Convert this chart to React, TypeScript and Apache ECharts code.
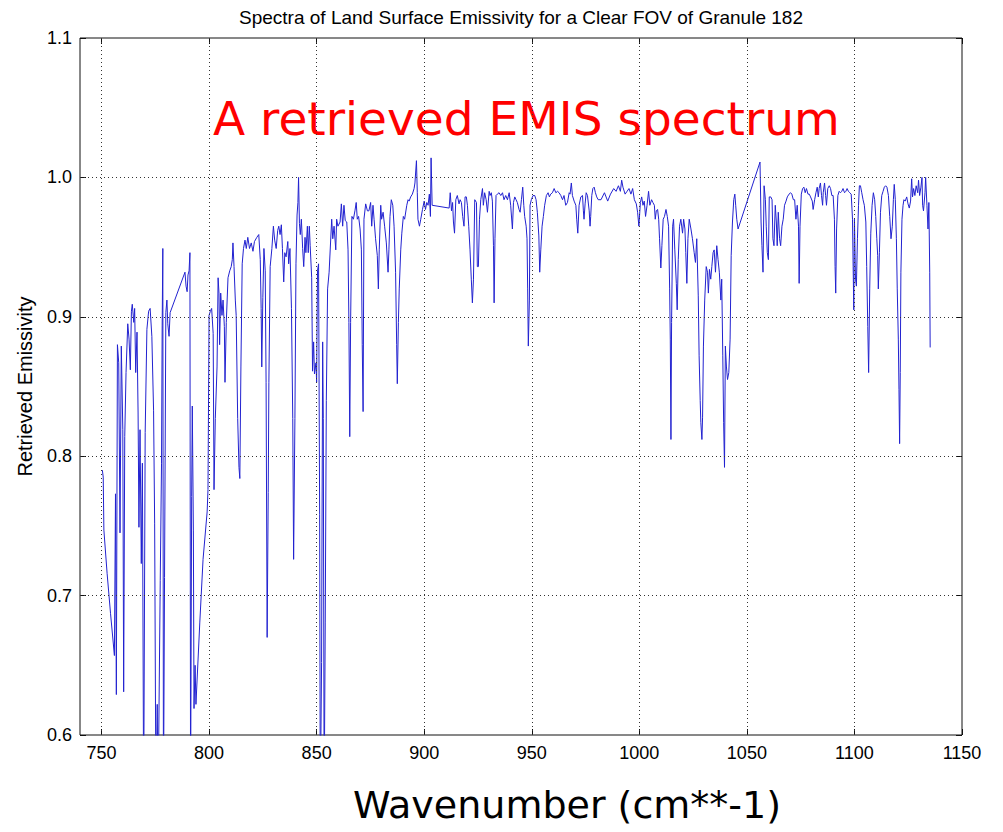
import React, { useEffect, useRef } from "react";
import * as echarts from "echarts";

// ---- data: [wavenumber (cm-1), retrieved emissivity] ----
const band750: [number, number][] = [
  [750.4, 0.79], [750.8, 0.785], [751.1, 0.747], [752.6, 0.716], [754.2, 0.687], [756.0, 0.657],
  [756.5, 0.773], [756.9, 0.629], [757.4, 0.88], [758.0, 0.867], [758.6, 0.745], [759.2, 0.879],
  [759.9, 0.819], [760.3, 0.631], [760.8, 0.814], [761.4, 0.86], [762.2, 0.895], [762.8, 0.884],
  [763.4, 0.862], [763.9, 0.904], [764.3, 0.909], [765.0, 0.896], [765.4, 0.906], [765.9, 0.86],
  [766.5, 0.889], [767.0, 0.831], [767.4, 0.749], [767.9, 0.819], [768.5, 0.723], [769.0, 0.795],
  [769.6, 0.55], [770.3, 0.817], [771.1, 0.891], [771.9, 0.904], [772.6, 0.906], [773.4, 0.886],
  [774.2, 0.833], [774.7, 0.752], [775.3, 0.55], [775.9, 0.622], [776.3, 0.55], [777.3, 0.711],
  [777.9, 0.795], [778.2, 0.894], [778.5, 0.949], [778.8, 0.55], [779.3, 0.713], [779.9, 0.903],
  [780.4, 0.912], [780.8, 0.895], [781.4, 0.886], [781.9, 0.903], [788.8, 0.932], [789.3, 0.922],
  [789.8, 0.918], [790.2, 0.93], [790.7, 0.933], [791.1, 0.946], [791.4, 0.55], [791.9, 0.771],
  [792.2, 0.836], [792.7, 0.747], [793.0, 0.619], [793.5, 0.65], [793.9, 0.622], [795.7, 0.681],
  [797.2, 0.726], [799.1, 0.76], [799.5, 0.776],
];

const band800: [number, number][] = [
  [800.0, 0.901], [800.6, 0.904], [801.2, 0.906], [801.9, 0.888], [802.3, 0.776], [802.9, 0.827],
  [803.7, 0.864], [804.2, 0.928], [804.6, 0.917], [804.9, 0.88], [805.4, 0.917], [806.0, 0.901],
  [806.5, 0.912], [807.1, 0.893], [807.4, 0.853], [808.0, 0.896], [808.8, 0.928], [809.6, 0.933],
  [810.3, 0.936], [810.8, 0.941], [811.1, 0.953], [811.6, 0.936], [812.2, 0.912], [812.6, 0.901],
  [813.3, 0.827], [813.9, 0.792], [814.3, 0.784], [814.8, 0.864], [815.4, 0.938], [816.0, 0.949],
  [816.7, 0.955], [817.3, 0.949], [818.0, 0.957], [818.8, 0.949], [819.6, 0.953], [820.4, 0.947],
  [821.1, 0.954], [822.2, 0.957], [823.1, 0.959], [823.8, 0.941], [824.2, 0.906], [824.5, 0.864],
  [825.0, 0.914], [825.5, 0.949], [826.1, 0.933], [826.5, 0.853], [827.0, 0.67], [827.5, 0.774],
  [827.8, 0.853], [828.4, 0.936], [829.2, 0.949], [829.9, 0.965], [830.5, 0.955], [831.2, 0.949],
  [831.9, 0.962], [832.4, 0.965], [833.0, 0.959], [833.6, 0.966], [834.1, 0.949], [834.7, 0.925],
  [835.2, 0.946], [835.8, 0.943], [836.6, 0.954], [837.0, 0.938], [837.6, 0.949], [838.3, 0.906],
  [838.9, 0.827], [839.3, 0.726], [839.9, 0.827], [840.4, 0.938], [840.9, 0.973], [841.3, 0.982],
  [841.6, 1.0], [842.0, 0.967], [842.4, 0.959], [842.9, 0.97], [843.5, 0.949], [844.0, 0.936],
  [844.6, 0.957], [845.0, 0.946], [845.7, 0.965], [846.1, 0.946], [846.6, 0.965], [847.0, 0.951],
  [847.7, 0.928], [848.1, 0.861], [848.6, 0.882], [849.0, 0.859], [849.7, 0.867], [850.0, 0.853],
  [850.4, 0.933], [850.9, 0.938], [851.4, 0.758], [851.7, 0.55], [852.3, 0.652], [852.8, 0.882],
  [853.1, 0.827], [853.5, 0.55], [854.0, 0.681], [854.5, 0.84], [855.1, 0.92],
];

const band855: [number, number][] = [
  [855.8, 0.932], [857.0, 0.97], [857.5, 0.956], [858.1, 0.965], [858.9, 0.948], [859.3, 0.97],
  [859.9, 0.965], [860.9, 0.968], [861.5, 0.981], [862.1, 0.965], [862.7, 0.98], [863.3, 0.969],
  [864.0, 0.968], [864.6, 0.948], [865.0, 0.896], [865.4, 0.814], [865.8, 0.896], [866.4, 0.972],
  [867.1, 0.97], [867.8, 0.976], [868.4, 0.982], [868.9, 0.97], [869.5, 0.972], [870.2, 0.963],
  [870.8, 0.948], [871.2, 0.88], [871.6, 0.832], [872.0, 0.97], [872.8, 0.981], [873.6, 0.976],
  [874.3, 0.976], [875.1, 0.982], [875.6, 0.965], [876.2, 0.98], [876.7, 0.97], [877.4, 0.956],
  [878.2, 0.944], [878.7, 0.92], [879.1, 0.948], [879.8, 0.98], [880.2, 0.97], [880.9, 0.975],
  [881.6, 0.965], [882.4, 0.953], [883.2, 0.932], [883.6, 0.948], [884.1, 0.972], [884.7, 0.984],
  [885.4, 0.98], [886.0, 0.965], [886.7, 0.932], [887.2, 0.88], [887.5, 0.852], [888.0, 0.896],
  [888.4, 0.92], [889.1, 0.948], [889.6, 0.96], [890.3, 0.972], [890.9, 0.97], [891.9, 0.98],
  [892.5, 0.984], [893.0, 0.983], [893.7, 0.986], [894.5, 0.988], [895.3, 0.992], [895.7, 0.996],
  [896.4, 1.012], [896.8, 0.989], [897.1, 0.97], [897.8, 0.965], [898.4, 0.97], [899.2, 0.977],
  [900.0, 0.983], [900.6, 0.977], [901.2, 0.982], [901.8, 0.98], [902.4, 0.988], [902.9, 0.972],
  [903.2, 1.014], [903.7, 0.98], [904.0, 0.98], [911.6, 0.978], [912.1, 0.989], [912.7, 0.976],
  [913.2, 0.982], [913.6, 0.968], [914.1, 0.96], [914.7, 0.984], [915.4, 0.987], [916.2, 0.981],
  [916.7, 0.984], [917.3, 0.982], [917.9, 0.972], [918.5, 0.965], [919.0, 0.986], [919.6, 0.986],
  [920.1, 0.98], [920.7, 0.965], [921.3, 0.948], [921.9, 0.927], [922.4, 0.91], [922.9, 0.927],
  [923.5, 0.984], [924.3, 0.982], [924.7, 0.936], [925.2, 0.936], [925.7, 0.97], [926.3, 0.984],
  [927.1, 0.992], [927.5, 0.98], [928.1, 0.989], [928.8, 0.984], [929.4, 0.975], [930.2, 0.99],
  [930.6, 0.987], [931.2, 0.989], [931.7, 0.983], [932.2, 0.951], [932.5, 0.91], [932.9, 0.956],
  [933.4, 0.987], [934.0, 0.988], [934.8, 0.989], [935.6, 0.987], [936.4, 0.989], [937.1, 0.984],
  [937.9, 0.987], [938.7, 0.984], [939.5, 0.989], [940.2, 0.98], [941.0, 0.963], [941.5, 0.982],
  [942.1, 0.986], [942.7, 0.984], [943.3, 0.982], [944.1, 0.977], [944.6, 0.975], [945.2, 0.984],
  [945.8, 0.993], [946.3, 0.98], [946.7, 0.972], [947.4, 0.965], [947.8, 0.956], [948.1, 0.92],
  [948.4, 0.879], [948.9, 0.912], [949.2, 0.98], [949.8, 0.984], [950.6, 0.987], [951.4, 0.987],
  [952.0, 0.984], [952.6, 0.975], [953.3, 0.958], [953.7, 0.932], [954.2, 0.948], [954.8, 0.965],
  [955.4, 0.972], [956.0, 0.98], [956.8, 0.987], [957.6, 0.989], [958.2, 0.986], [958.8, 0.988],
  [959.6, 0.989], [960.4, 0.992], [961.2, 0.989], [962.0, 0.99], [962.7, 0.989], [963.5, 0.987],
  [964.3, 0.984], [965.0, 0.987], [965.8, 0.98], [966.6, 0.982], [967.4, 0.989], [967.8, 0.988],
  [968.4, 0.996], [968.9, 0.987], [969.7, 0.983], [970.5, 0.98], [970.9, 0.97], [971.4, 0.96],
  [972.0, 0.98], [972.8, 0.986], [973.6, 0.987], [974.0, 0.976], [974.3, 0.97], [974.8, 0.981],
  [975.3, 0.989], [975.9, 0.987], [976.7, 0.976], [977.1, 0.965], [977.4, 0.972], [977.9, 0.987],
  [978.4, 0.992], [979.0, 0.993], [979.6, 0.989], [980.2, 0.986], [980.9, 0.984],
];

const band982: [number, number][] = [
  [982.2, 0.984], [983.8, 0.989], [985.3, 0.983], [986.6, 0.988], [988.1, 0.992], [989.2, 0.99],
  [990.3, 0.994], [991.2, 0.99], [991.8, 0.998], [992.4, 0.993], [993.4, 0.988], [994.3, 0.99],
  [995.2, 0.992], [996.1, 0.988], [996.9, 0.992], [997.7, 0.984], [998.6, 0.981], [999.2, 0.975],
  [999.8, 0.965], [1000.5, 0.982], [1001.1, 0.986], [1001.7, 0.98], [1002.3, 0.983], [1002.9, 0.972],
  [1003.6, 0.98], [1004.3, 0.99], [1004.9, 0.98], [1005.7, 0.984], [1006.3, 0.982], [1007.0, 0.98],
  [1007.4, 0.97], [1007.9, 0.976], [1008.5, 0.977], [1009.0, 0.97], [1009.4, 0.956], [1010.0, 0.935],
  [1010.5, 0.951], [1011.1, 0.97], [1011.7, 0.972], [1012.4, 0.977], [1013.0, 0.972], [1013.6, 0.965],
  [1014.1, 0.92], [1014.4, 0.884], [1014.7, 0.812], [1015.0, 0.896], [1015.5, 0.965], [1015.9, 0.97],
  [1016.5, 0.948], [1017.2, 0.924], [1017.6, 0.905], [1018.1, 0.941], [1018.7, 0.965], [1019.3, 0.97],
  [1020.1, 0.96], [1020.6, 0.97], [1021.2, 0.963], [1021.6, 0.946], [1022.1, 0.924], [1022.6, 0.956],
  [1023.2, 0.97], [1024.0, 0.963], [1024.7, 0.956], [1025.5, 0.946], [1026.1, 0.939], [1026.7, 0.956],
  [1027.4, 0.915], [1027.8, 0.872], [1028.3, 0.84], [1028.6, 0.824], [1029.1, 0.812], [1029.4, 0.828],
  [1029.8, 0.879], [1030.4, 0.912], [1031.1, 0.936], [1031.7, 0.932], [1032.1, 0.917], [1032.6, 0.934],
  [1033.2, 0.927], [1033.7, 0.936], [1034.3, 0.946], [1034.8, 0.948], [1035.4, 0.932], [1036.0, 0.951],
  [1036.6, 0.941], [1037.2, 0.932], [1037.9, 0.912], [1038.3, 0.927], [1038.8, 0.872], [1039.2, 0.824],
  [1039.6, 0.792], [1040.0, 0.879], [1040.5, 0.864], [1041.0, 0.855], [1041.6, 0.86], [1042.2, 0.884],
  [1042.7, 0.944], [1043.3, 0.968], [1043.9, 0.984], [1044.4, 0.988], [1044.8, 0.98], [1045.3, 0.97],
  [1045.9, 0.963], [1056.1, 1.011], [1056.6, 0.968], [1057.0, 0.951], [1057.5, 0.932], [1058.0, 0.994],
  [1058.6, 0.984], [1059.0, 0.965], [1059.5, 0.946], [1060.0, 0.941], [1060.4, 0.986], [1061.1, 0.986],
  [1061.7, 0.984], [1062.1, 0.956], [1062.6, 0.951], [1063.2, 0.98], [1063.7, 0.968], [1064.1, 0.951],
  [1064.6, 0.975], [1065.2, 0.956], [1065.7, 0.951], [1066.3, 0.965], [1066.9, 0.97], [1067.5, 0.98],
  [1068.2, 0.983], [1068.8, 0.986], [1069.6, 0.988], [1070.3, 0.989], [1070.9, 0.988], [1071.6, 0.984],
  [1072.2, 0.984], [1072.8, 0.97], [1073.4, 0.98], [1074.0, 0.965], [1074.3, 0.924], [1074.7, 0.965],
  [1075.3, 0.988], [1075.9, 0.992], [1076.5, 0.993], [1077.1, 0.989], [1077.7, 0.992], [1078.4, 0.988],
  [1079.0, 0.988], [1079.6, 0.986], [1080.4, 0.983], [1080.8, 0.977], [1081.5, 0.984], [1082.1, 0.989],
  [1082.7, 0.993], [1083.2, 0.986], [1083.6, 0.992], [1084.2, 0.996], [1084.7, 0.987], [1085.2, 0.98],
  [1085.5, 0.989], [1086.1, 0.996], [1086.6, 0.987], [1087.0, 0.98], [1087.6, 0.992], [1088.3, 0.994],
  [1088.9, 0.992], [1089.5, 0.987], [1090.1, 0.987], [1090.7, 0.97], [1091.0, 0.936], [1091.3, 0.917],
  [1091.7, 0.963], [1092.3, 0.987], [1092.9, 0.99], [1093.5, 0.989], [1094.1, 0.99], [1094.7, 0.992],
  [1095.4, 0.989], [1096.0, 0.99], [1096.6, 0.992], [1097.2, 0.99], [1097.8, 0.989], [1098.5, 0.988],
  [1099.1, 0.97], [1099.4, 0.936], [1099.7, 0.905], [1100.0, 0.97], [1100.5, 0.927], [1100.9, 0.922],
  [1101.4, 0.956], [1101.9, 0.98], [1102.3, 0.994], [1102.8, 0.994], [1103.4, 0.989], [1104.0, 0.984],
  [1104.6, 0.98], [1105.3, 0.968], [1105.7, 0.936], [1106.2, 0.893], [1106.6, 0.86], [1107.1, 0.92],
  [1107.6, 0.96], [1108.2, 0.98], [1108.8, 0.989], [1109.4, 0.984], [1109.9, 0.972], [1110.4, 0.956],
  [1110.8, 0.944], [1111.1, 0.92], [1111.6, 0.946], [1112.1, 0.975], [1112.7, 0.987], [1113.3, 0.99],
  [1113.9, 0.993], [1114.5, 0.994], [1115.1, 0.993], [1115.8, 0.987], [1116.4, 0.972], [1117.0, 0.956],
  [1117.6, 0.965], [1118.1, 0.984], [1118.5, 0.995], [1119.0, 0.984], [1119.5, 0.956], [1119.9, 0.92],
  [1120.4, 0.884], [1120.7, 0.848], [1121.0, 0.809], [1121.3, 0.86], [1121.6, 0.932], [1122.1, 0.97],
  [1122.6, 0.98], [1123.0, 0.984], [1123.6, 0.983], [1124.3, 0.986], [1124.9, 0.981], [1125.5, 0.978],
  [1126.1, 0.983], [1126.6, 0.999], [1127.0, 0.986], [1127.5, 0.992], [1128.1, 0.987], [1128.7, 0.994],
  [1129.4, 0.989], [1129.8, 0.998], [1130.3, 0.987], [1130.9, 0.993], [1131.4, 1.0], [1131.7, 0.98],
  [1132.1, 0.976], [1132.8, 0.989], [1133.1, 1.0], [1133.4, 1.0], [1133.7, 0.98], [1134.2, 0.963],
  [1134.6, 0.982], [1135.0, 0.932], [1135.2, 0.878],
];

const xTicks = [750, 800, 850, 900, 950, 1000, 1050, 1100, 1150];
const xGrid = [750, 800, 850, 900, 950, 1000, 1050, 1100];
const yGrid = [0.7, 0.8, 0.9, 1.0];

const TITLE = "Spectra of Land Surface Emissivity for a Clear FOV of Granule 182";
const ANNOTATION = "A retrieved EMIS spectrum";
const X_NAME = "Wavenumber (cm**-1)";
const Y_NAME = "Retrieved Emissivity";

export default function App() {
  const ref = useRef<HTMLDivElement>(null);
  useEffect(() => {
    if (!ref.current) return;
    const chart = echarts.init(ref.current, null, { renderer: "svg" });
    const spectrum = [...band750, ...band800, ...band855, ...band982];
    const tickFont = { fontSize: 18, color: "#000", fontFamily: "Liberation Sans, Arial, sans-serif" };
    const gridLine = { type: [1, 3] as any, color: "#333", width: 1 };
    chart.setOption({
      animation: false,
      backgroundColor: "#fff",
      grid: { left: 80, right: 41, top: 38, bottom: 97, show: true, borderColor: "#111", borderWidth: 1, backgroundColor: "transparent" },
      xAxis: [
        {
          type: "value", min: 740, max: 1150, position: "bottom",
          axisLine: { show: false },
          axisTick: { show: true, inside: true, length: 6, lineStyle: { color: "#111" }, customValues: xTicks },
          axisLabel: { ...tickFont, margin: 9, customValues: xTicks, formatter: (v: number) => String(v) },
          splitLine: { show: false },
        },
        {
          type: "value", min: 740, max: 1150, position: "top",
          axisLine: { show: false },
          axisTick: { show: true, inside: true, length: 6, lineStyle: { color: "#111" }, customValues: xTicks },
          axisLabel: { show: false },
          splitLine: { show: false },
        },
      ],
      yAxis: [
        {
          type: "value", min: 0.6, max: 1.1, interval: 0.1, position: "left",
          axisLine: { show: false },
          axisTick: { show: true, inside: true, length: 6, lineStyle: { color: "#111" } },
          axisLabel: { ...tickFont, margin: 8, formatter: (v: number) => v.toFixed(1) },
          splitLine: { show: false },
          name: Y_NAME, nameLocation: "middle", nameGap: 45,
          nameTextStyle: { fontSize: 20, color: "#000", fontFamily: "Liberation Sans, Arial, sans-serif" },
        },
        {
          type: "value", min: 0.6, max: 1.1, interval: 0.1, position: "right",
          axisLine: { show: false },
          axisTick: { show: true, inside: true, length: 6, lineStyle: { color: "#111" } },
          axisLabel: { show: false },
          splitLine: { show: false },
        },
      ],
      series: [
        {
          type: "line",
          xAxisIndex: 0, yAxisIndex: 0,
          data: spectrum,
          showSymbol: false, symbol: "none",
          clip: true,
          lineStyle: { color: "#2222d0", width: 1 },
          markLine: {
            silent: true, symbol: ["none", "none"], animation: false,
            label: { show: false },
            lineStyle: gridLine,
            data: [...xGrid.map((v) => ({ xAxis: v })), ...yGrid.map((v) => ({ yAxis: v }))],
          },
        },
      ],
      graphic: [
        {
          type: "text", x: 521, y: 17,
          style: { text: TITLE, fontSize: 19, fontFamily: "Liberation Sans, Arial, sans-serif", fill: "#000", align: "center", verticalAlign: "middle" },
        },
        {
          type: "text", x: 213, y: 118,
          style: { text: ANNOTATION, fontSize: 47, fontFamily: "DejaVu Sans, Verdana, sans-serif", fill: "#ff0000", align: "left", verticalAlign: "middle" },
        },
        {
          type: "text", x: 567, y: 805,
          style: { text: X_NAME, fontSize: 38, fontFamily: "DejaVu Sans, Verdana, sans-serif", fill: "#000", align: "center", verticalAlign: "middle" },
        },
      ],
    });
    return () => chart.dispose();
  }, []);
  return <div ref={ref} style={{ position: "fixed", left: 0, top: 0, width: 1003, height: 832, background: "#fff" }} />;
}
